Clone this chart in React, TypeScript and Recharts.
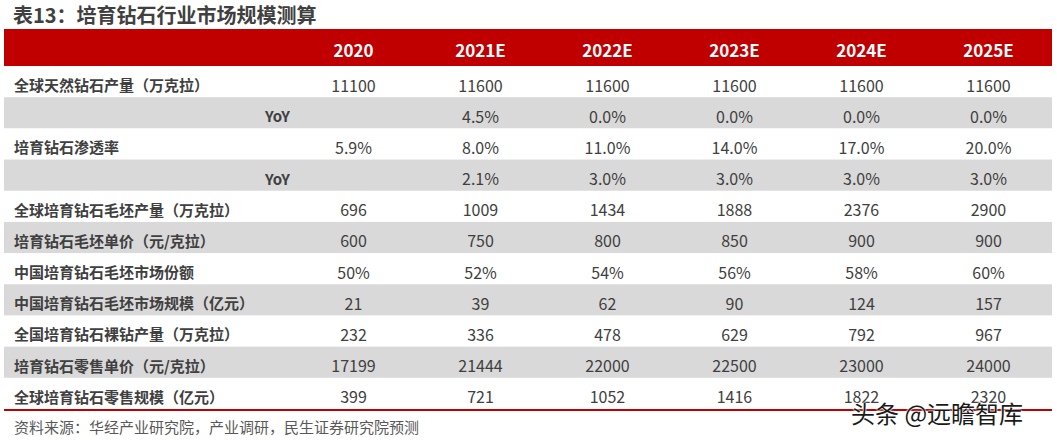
import React from "react";
import { BarChart, Bar, XAxis, YAxis } from "recharts";

const years = ["2020", "2021E", "2022E", "2023E", "2024E", "2025E"];

const rowLabels = [
  "全球天然钻石产量（万克拉）",
  "YoY",
  "培育钻石渗透率",
  "YoY",
  "全球培育钻石毛坯产量（万克拉）",
  "培育钻石毛坯单价（元/克拉）",
  "中国培育钻石毛坯市场份额",
  "中国培育钻石毛坯市场规模（亿元）",
  "全国培育钻石裸钻产量（万克拉）",
  "培育钻石零售单价（元/克拉）",
  "全球培育钻石零售规模（亿元）",
];

const naturalOutput = [11100, 11600, 11600, 11600, 11600, 11600];
const naturalYoY = [null, 4.5, 0.0, 0.0, 0.0, 0.0];
const labPenetration = [5.9, 8.0, 11.0, 14.0, 17.0, 20.0];
const penetrationYoY = [null, 2.1, 3.0, 3.0, 3.0, 3.0];
const roughOutput = [696, 1009, 1434, 1888, 2376, 2900];
const roughPrice = [600, 750, 800, 850, 900, 900];
const chinaRoughShare = [50, 52, 54, 56, 58, 60];
const chinaRoughMarket = [21, 39, 62, 90, 124, 157];
const polishedOutput = [232, 336, 478, 629, 792, 967];
const retailPrice = [17199, 21444, 22000, 22500, 23000, 24000];
const retailMarket = [399, 721, 1052, 1416, 1822, 2320];

const RED = "#c00000";
const GRAY = "#d9d9d9";
const INK = "#404040";
const FONT = '"Noto Sans CJK SC", "Noto Sans", sans-serif';

// label column width measured in year-column units
const LABEL_SPAN = 286 / 127;
const SPAN = LABEL_SPAN + years.length;
const colKeys = years.map((_, i) => `c${i}`);

const int = (v: number | null) => (v == null ? "" : String(v));
const pct1 = (v: number | null) => (v == null ? "" : `${v.toFixed(1)}%`);
const pct0 = (v: number | null) => (v == null ? "" : `${v}%`);

const series: [(number | null)[], (v: number | null) => string][] = [
  [naturalOutput, int],
  [naturalYoY, pct1],
  [labPenetration, pct1],
  [penetrationYoY, pct1],
  [roughOutput, int],
  [roughPrice, int],
  [chinaRoughShare, pct0],
  [chinaRoughMarket, int],
  [polishedOutput, int],
  [retailPrice, int],
  [retailMarket, int],
];

const withSpans = (o: any) => {
  o.lab = LABEL_SPAN;
  colKeys.forEach((k) => (o[k] = 1));
  return o;
};

const bodyData = rowLabels.map((label, i) =>
  withSpans({
    key: `r${i}`,
    label,
    yoy: label === "YoY",
    striped: i % 2 === 1,
    texts: series[i][0].map(series[i][1]),
  })
);

const headData = [withSpans({ key: "head", label: "", texts: years })];

const bodyCell = (col: number) => (p: any) => {
  const { x, y, width, height, payload } = p;
  const cy = y + height / 2 + 3;
  let txt: React.ReactNode = null;
  if (col < 0) {
    txt = (
      <text
        x={payload.yoy ? x + width : x + 10}
        y={cy}
        textAnchor={payload.yoy ? "end" : "start"}
        dominantBaseline="central"
        fontFamily={FONT}
        fontWeight={700}
        fontSize={15}
        fill={INK}
      >
        {payload.label}
      </text>
    );
  } else if (payload.texts[col]) {
    txt = (
      <text
        x={x + width / 2}
        y={cy}
        textAnchor="middle"
        dominantBaseline="central"
        fontFamily={FONT}
        fontSize={16}
        fill={INK}
      >
        {payload.texts[col]}
      </text>
    );
  }
  return (
    <g>
      <rect x={x} y={y} width={width} height={height + 0.5} fill={payload.striped ? GRAY : "#ffffff"} />
      {txt}
    </g>
  );
};

const headCell = (col: number) => (p: any) => {
  const { x, y, width, height, payload } = p;
  return (
    <g>
      <rect x={x} y={y} width={width} height={height} fill={RED} />
      {col >= 0 && (
        <text
          x={x + width / 2}
          y={y + height / 2 + 2}
          textAnchor="middle"
          dominantBaseline="central"
          fontFamily={FONT}
          fontWeight={700}
          fontSize={17}
          fill="#ffffff"
        >
          {payload.texts[col]}
        </text>
      )}
    </g>
  );
};

function TableChart({ data, height, cell }: { data: any[]; height: number; cell: (c: number) => any }) {
  return (
    <BarChart
      width={1057}
      height={height}
      data={data}
      layout="vertical"
      barCategoryGap={0}
      barGap={0}
      margin={{ top: 0, right: 5, bottom: 0, left: 4 }}
    >
      <XAxis type="number" domain={[0, SPAN]} allowDataOverflow hide />
      <YAxis type="category" dataKey="key" hide />
      <Bar dataKey="lab" stackId="t" shape={cell(-1)} isAnimationActive={false} />
      {colKeys.map((k, i) => (
        <Bar key={k} dataKey={k} stackId="t" shape={cell(i)} isAnimationActive={false} />
      ))}
    </BarChart>
  );
}

export default function App() {
  return (
    <div
      style={{
        position: "absolute",
        left: 0,
        top: 0,
        width: 1057,
        height: 440,
        background: "#fff",
        overflow: "hidden",
        fontFamily: FONT,
      }}
    >
      <div
        style={{
          position: "absolute",
          left: 13,
          top: 5,
          fontSize: 20,
          lineHeight: "20px",
          fontWeight: 700,
          color: INK,
          whiteSpace: "nowrap",
        }}
      >
        表13：培育钻石行业市场规模测算
      </div>
      <div style={{ position: "absolute", left: 0, top: 29 }}>
        <TableChart data={headData} height={37} cell={headCell} />
      </div>
      <div style={{ position: "absolute", left: 0, top: 66 }}>
        <TableChart data={bodyData} height={343} cell={bodyCell} />
      </div>
      <div style={{ position: "absolute", left: 4, top: 409, width: 1048, height: 2, background: RED }} />
      <div
        style={{
          position: "absolute",
          left: 14,
          top: 418,
          fontSize: 15,
          lineHeight: "18px",
          color: "#595959",
          whiteSpace: "nowrap",
        }}
      >
        资料来源：华经产业研究院，产业调研，民生证券研究院预测
      </div>
      <div
        style={{
          position: "absolute",
          left: 851,
          top: 401,
          fontSize: 24,
          lineHeight: "24px",
          color: "#1a1a1a",
          whiteSpace: "nowrap",
          textShadow: "0 0 2px #fff, 0 0 2px #fff, 0 0 1px #fff",
        }}
      >
        头条 @远瞻智库
      </div>
    </div>
  );
}
